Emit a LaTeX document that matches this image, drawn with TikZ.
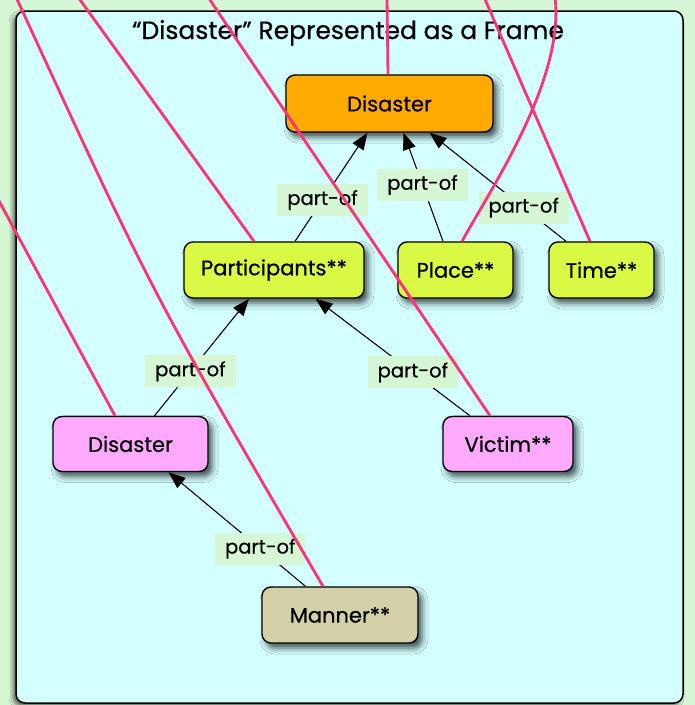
\documentclass[tikz,border=0pt]{standalone}
\usepackage{fontspec}
\setmainfont{Poppins}[RawFeature={embolden=0.6}]
\usetikzlibrary{arrows.meta,shadows.blur}
\definecolor{outerbg}{HTML}{D5F7D5}
\definecolor{panelbg}{HTML}{D4FFFF}
\definecolor{orangebox}{HTML}{FFAA00}
\definecolor{limebox}{HTML}{D9F945}
\definecolor{pinkbox}{HTML}{FFAAFF}
\definecolor{tanbox}{HTML}{D4D0A8}
\definecolor{pinkline}{HTML}{FF3377}
\tikzset{
  framebox/.style={draw=black, line width=1.4pt, rounded corners=9pt, inner sep=0pt,
    font=\fontsize{21}{24}\selectfont,
    blur shadow={shadow xshift=4pt, shadow yshift=-5pt, shadow blur radius=6pt, shadow opacity=70}},
  partof/.style={-{Triangle[length=17pt,width=13pt]}, line width=1.1pt, black},
  lbl/.style={fill=outerbg, inner xsep=10pt, inner ysep=6pt, font=\fontsize{19.5}{21}\selectfont},
  xline/.style={draw=pinkline, line width=2.8pt}
}
\begin{document}
\begin{tikzpicture}[x=1pt,y=-1pt]
\useasboundingbox (0,0) rectangle (695,705);
\clip (0,0) rectangle (695,705);
\fill[outerbg] (0,0) rectangle (695,705);
% panel
\path[fill=panelbg, draw=black, line width=1.5pt, rounded corners=9pt,
  blur shadow={shadow xshift=-3pt, shadow yshift=-3pt, shadow blur radius=4pt, shadow opacity=60}]
  (16,11) rectangle (683,703);
\node[font=\fontsize{25}{28}\selectfont, anchor=base] (title) at (348,39) {“Disaster” Represented as a Frame};

% nodes
\node[framebox, fill=orangebox, minimum width=207pt, minimum height=57pt] (dis) at (389.5,103.5) {Disaster};
\node[framebox, fill=limebox, minimum width=180pt, minimum height=56pt] (part) at (274,270) {Participants**};
\node[framebox, fill=limebox, minimum width=115pt, minimum height=56pt] (place) at (455.5,270) {Place**};
\node[framebox, fill=limebox, minimum width=105pt, minimum height=56pt] (time) at (601.5,270) {Time**};
\node[framebox, fill=pinkbox, minimum width=155pt, minimum height=55pt] (pdis) at (130.5,444) {Disaster};
\node[framebox, fill=pinkbox, minimum width=130pt, minimum height=55pt] (victim) at (508,444) {Victim**};
\node[framebox, fill=tanbox, minimum width=156pt, minimum height=56pt] (manner) at (340,615) {Manner**};

% part-of connectors
\draw[partof] ([xshift=21pt]part.north) -- node[lbl, pos=0.38] {part-of} ([xshift=-22pt]dis.south);
\draw[partof] ([xshift=-12.5pt]place.north) -- node[lbl, pos=0.52] {part-of} ([xshift=14pt]dis.south);
\draw[partof] ([xshift=-35.5pt]time.north) -- node[lbl, pos=0.31] {part-of} ([xshift=40pt]dis.south);
\draw[partof] ([xshift=24pt]pdis.north) -- node[lbl, pos=0.38] {part-of} ([xshift=-25pt]part.south);
\draw[partof] ([xshift=-38pt]victim.north) -- node[lbl, pos=0.37] {part-of} ([xshift=41.5pt]part.south);
\draw[partof] ([xshift=-34.5pt]manner.north) -- node[lbl, pos=0.33] {part-of} ([xshift=38pt]pdis.south);

% crossing lines
\coordinate (tdis) at (387,-3);
\coordinate (tpart) at (78,-3);
\coordinate (tplace) at (555,-3);
\coordinate (ttime) at (484,-3);
\coordinate (tpdis) at (-2,199);
\coordinate (tvictim) at (208,-3);
\coordinate (tmanner) at (16,-3);
\draw[xline] ([xshift=-1.5pt]dis.north) -- (tdis);
\draw[xline] ([xshift=-20pt]part.north) -- (tpart);
\draw[xline] ([xshift=6.5pt]place.north) .. controls (490,190) and (565,80) .. (tplace);
\draw[xline] ([xshift=-11.5pt]time.north) -- (ttime);
\draw[xline] ([xshift=-15.5pt]pdis.north) -- (tpdis);
\draw[xline] ([xshift=-18pt]victim.north) -- (tvictim);
\draw[xline] ([xshift=-17pt]manner.north) .. controls (152,293) .. (tmanner);
\end{tikzpicture}
\end{document}
